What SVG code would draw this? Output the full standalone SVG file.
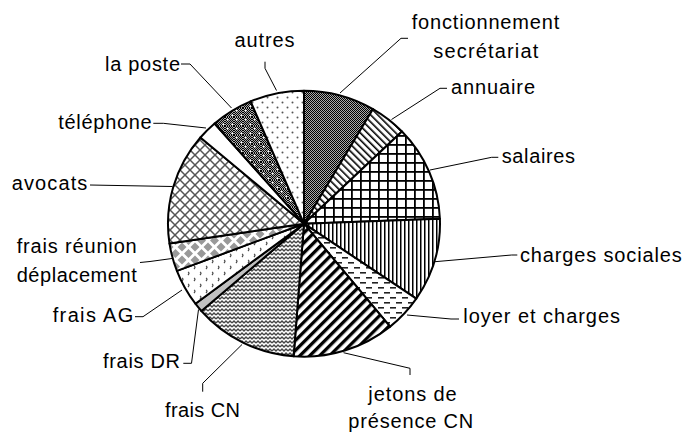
<svg xmlns="http://www.w3.org/2000/svg" width="686" height="432" viewBox="0 0 686 432">
<style>
.sl{stroke:#000;stroke-width:2;stroke-linejoin:round}
.lb{font-family:"Liberation Sans",Arial,sans-serif;font-size:20px;fill:#000}
.ld{fill:none;stroke:#000;stroke-width:1}
</style>
<defs>
<pattern id="pFonct" width="2" height="2" patternUnits="userSpaceOnUse"><rect width="2" height="2" fill="#aaa"/><rect width="1" height="1" fill="#000"/><rect x="1" y="1" width="1" height="1" fill="#000"/></pattern>
<pattern id="pAnn" width="5" height="5" patternUnits="userSpaceOnUse" patternTransform="rotate(-45)"><rect width="5" height="5" fill="#fff"/><rect width="1.6" height="5" fill="#000"/></pattern>
<pattern id="pSal" width="9" height="9" patternUnits="userSpaceOnUse"><rect width="9" height="9" fill="#fff"/><rect width="9" height="1.8" fill="#000"/><rect width="1.8" height="9" fill="#000"/></pattern>
<pattern id="pChg" width="4" height="4" patternUnits="userSpaceOnUse"><rect width="4" height="4" fill="#fff"/><rect width="1.5" height="4" fill="#000"/></pattern>
<pattern id="pLoy" width="12" height="10" patternUnits="userSpaceOnUse"><rect width="12" height="10" fill="#fff"/><rect x="0" y="2" width="6" height="1.6" fill="#222"/><rect x="6" y="7" width="6" height="1.6" fill="#222"/></pattern>
<pattern id="pJet" width="7" height="7" patternUnits="userSpaceOnUse" patternTransform="rotate(45)"><rect width="7" height="7" fill="#fff"/><rect width="3.3" height="7" fill="#000"/></pattern>
<pattern id="pCN" width="8" height="8" patternUnits="userSpaceOnUse"><rect width="8" height="8" fill="#fff"/><path d="M0 3L2 1L4 3L6 1L8 3M0 7L2 5L4 7L6 5L8 7" fill="none" stroke="#444" stroke-width="1.4"/></pattern>
<pattern id="pAG" width="12" height="12" patternUnits="userSpaceOnUse"><rect width="12" height="12" fill="#fff"/><path d="M2 2q2 1 0 3M8 8q2 1 0 3" fill="none" stroke="#444" stroke-width="1.2"/></pattern>
<pattern id="pReu" width="13" height="13" patternUnits="userSpaceOnUse"><rect width="13" height="13" fill="#fff"/><path d="M6.5 2L11 6.5L6.5 11L2 6.5Z M0 -4.5L4.5 0L0 4.5L-4.5 0Z M13 -4.5L17.5 0L13 4.5L8.5 0Z M0 8.5L4.5 13L0 17.5L-4.5 13Z M13 8.5L17.5 13L13 17.5L8.5 13Z" fill="#999"/></pattern>
<pattern id="pAvo" width="10" height="10" patternUnits="userSpaceOnUse"><rect width="10" height="10" fill="#fff"/><path d="M0 0L10 10M10 0L0 10" stroke="#555" stroke-width="1.5"/></pattern>
<pattern id="pPos" width="9" height="9" patternUnits="userSpaceOnUse"><rect width="9" height="9" fill="url(#pFonct)"/><rect x="2" y="2" width="1.5" height="1.5" fill="#fff"/><rect x="6.5" y="6.5" width="1.5" height="1.5" fill="#fff"/></pattern>
<pattern id="pAut" width="10" height="10" patternUnits="userSpaceOnUse"><rect width="10" height="10" fill="#fff"/><circle cx="2.5" cy="2.5" r="1" fill="#555"/><circle cx="7.5" cy="7.5" r="1" fill="#555"/></pattern>
</defs>
<rect width="686" height="432" fill="#fff"/>
<g id="connectors">
<polyline class="ld" points="340,93 401,38.3 408,38.3"/>
<polyline class="ld" points="391.5,119.5 440,88.3 447,88.3"/>
<polyline class="ld" points="430,170 491.7,157.3 498.3,157.3"/>
<polyline class="ld" points="435,261.7 511.7,255 517.3,255"/>
<polyline class="ld" points="407,315 451,319 459,319"/>
<polyline class="ld" points="343.5,352.7 410,368.3 410,375"/>
<polyline class="ld" points="242,344.5 202.7,383.3 202.7,391.7"/>
<polyline class="ld" points="198.5,309.5 191.5,363.3 183.3,363.3"/>
<polyline class="ld" points="182,290 143,316.7 135,316.7"/>
<polyline class="ld" points="172,258.5 150,261.5 140,262.5"/>
<polyline class="ld" points="172.5,186.5 90,185"/>
<polyline class="ld" points="206,128 163.3,123.3 153.3,123.3"/>
<polyline class="ld" points="231.5,108 190,64 181,64"/>
<polyline class="ld" points="276.5,90.5 265,68.3 265,61.7"/>
</g>
<g id="fonctionnement"><path class="sl" fill="url(#pFonct)" d="M304,223.7L304,90.7A136,133 0 0 1 373,109.1Z"/><text class="lb" x="411.7" y="29" textLength="147.6" lengthAdjust="spacing">fonctionnement</text><text class="lb" x="433.3" y="58" textLength="105" lengthAdjust="spacing">secrétariat</text></g>
<g id="annuaire"><path class="sl" fill="url(#pAnn)" d="M304,223.7L373,109.1A136,133 0 0 1 402,131.5Z"/><text class="lb" x="451" y="94" textLength="84" lengthAdjust="spacing">annuaire</text></g>
<g id="salaires"><path class="sl" fill="url(#pSal)" d="M304,223.7L402,131.5A136,133 0 0 1 439.9,218.8Z"/><text class="lb" x="501.7" y="162.7" textLength="73.3" lengthAdjust="spacing">salaires</text></g>
<g id="charges-sociales"><path class="sl" fill="url(#pChg)" d="M304,223.7L439.9,218.8A136,133 0 0 1 416.3,298.6Z"/><text class="lb" x="520" y="262.3" textLength="161.7" lengthAdjust="spacing">charges sociales</text></g>
<g id="loyer"><path class="sl" fill="url(#pLoy)" d="M304,223.7L416.3,298.6A136,133 0 0 1 390.1,326.6Z"/><text class="lb" x="463.3" y="323.3" textLength="156.7" lengthAdjust="spacing">loyer et charges</text></g>
<g id="jetons"><path class="sl" fill="url(#pJet)" d="M304,223.7L390.1,326.6A136,133 0 0 1 293.6,356.3Z"/><text class="lb" x="368.3" y="401" textLength="88.4" lengthAdjust="spacing">jetons de</text><text class="lb" x="348.3" y="428" textLength="125" lengthAdjust="spacing">présence CN</text></g>
<g id="frais-cn"><path class="sl" fill="url(#pCN)" d="M304,223.7L293.6,356.3A136,133 0 0 1 201.4,311Z"/><text class="lb" x="165" y="416.7" textLength="75" lengthAdjust="spacing">frais CN</text></g>
<g id="frais-dr"><path class="sl" fill="#c0c0c0" d="M304,223.7L201.4,311A136,133 0 0 1 195.4,303.7Z"/><text class="lb" x="103" y="368" textLength="77" lengthAdjust="spacing">frais DR</text></g>
<g id="frais-ag"><path class="sl" fill="url(#pAG)" d="M304,223.7L195.4,303.7A136,133 0 0 1 176.9,270.9Z"/><text class="lb" x="52.7" y="321.7" textLength="80.6" lengthAdjust="spacing">frais AG</text></g>
<g id="frais-reunion"><path class="sl" fill="url(#pReu)" d="M304,223.7L176.9,270.9A136,133 0 0 1 169.5,243.6Z"/><text class="lb" x="16.7" y="253.3" textLength="120" lengthAdjust="spacing">frais réunion</text><text class="lb" x="16.7" y="282.3" textLength="120" lengthAdjust="spacing">déplacement</text></g>
<g id="avocats"><path class="sl" fill="url(#pAvo)" d="M304,223.7L169.5,243.6A136,133 0 0 1 200.4,137.5Z"/><text class="lb" x="11.7" y="190" textLength="75.6" lengthAdjust="spacing">avocats</text></g>
<g id="telephone"><path class="sl" fill="#fff" d="M304,223.7L200.4,137.5A136,133 0 0 1 214.6,123.5Z"/><text class="lb" x="58.3" y="129.3" textLength="93.4" lengthAdjust="spacing">téléphone</text></g>
<g id="la-poste"><path class="sl" fill="url(#pPos)" d="M304,223.7L214.6,123.5A136,133 0 0 1 250.6,101.4Z"/><text class="lb" x="105" y="70.7" textLength="75" lengthAdjust="spacing">la poste</text></g>
<g id="autres"><path class="sl" fill="url(#pAut)" d="M304,223.7L250.6,101.4A136,133 0 0 1 304,90.7Z"/><text class="lb" x="234.6" y="46.7" textLength="60" lengthAdjust="spacing">autres</text></g>
</svg>
